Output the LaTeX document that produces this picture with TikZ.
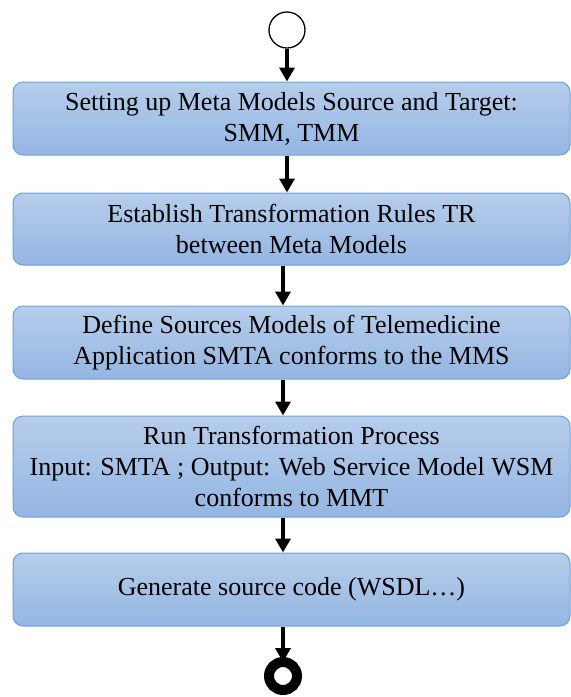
\documentclass[tikz,border=0pt]{standalone}
\usepackage{fontspec}
\setmainfont{Liberation Serif}
\usepackage{xcolor}
\usetikzlibrary{arrows.meta,shapes}

\definecolor{boxtop}{RGB}{182,205,235}
\definecolor{boxbot}{RGB}{148,182,226}
\definecolor{boxline}{RGB}{110,159,216}

\tikzset{
  stepbox/.style={rectangle,rounded corners=10pt,draw=boxline,line width=1pt,
    top color=boxtop,bottom color=boxbot,minimum width=557pt,inner sep=0pt,
    align=center,font=\fontsize{26}{31}\selectfont},
  flow/.style={-{Triangle[length=14pt,width=15pt]},line width=3.8pt}
}

\begin{document}
\begin{tikzpicture}[x=1pt,y=1pt]
		\useasboundingbox (0,0) rectangle (571,-697);
		\node[circle,draw,line width=1.3pt,fill=white,minimum size=36pt,inner sep=0pt] (start) at (287,-30) {};
		\node[stepbox,minimum height=73pt] (smm) at (291.5,-118.5) {Setting up Meta Models Source and Target:\\SMM, TMM};
		\node[stepbox,minimum height=72pt] (rules) at (291.5,-229) {Establish Transformation Rules TR\\between Meta Models};
		\node[stepbox,minimum height=73pt] (models) at (291.5,-342.5) {Define Sources Models of Telemedicine\\Application SMTA conforms to the MMS};
		\node[stepbox,minimum height=101pt] (run) at (291.5,-466.5) {Run Transformation Process\\Input: SMTA ; Output: Web Service Model WSM\\conforms to MMT};
		\node[stepbox,minimum height=73pt] (gen) at (291.5,-589.5) {Generate source code (WSDL\ldots)};
		\node[circle,draw,line width=10pt,fill=white,minimum size=28pt,inner sep=0pt,outer sep=0pt] (stop) at (283,-676) {};
		%
		\path[flow]
		(start) edge (start |- smm.north)
		(smm.south -| start) edge (rules.north -| start)
		(rules.south -| stop) edge (models.north -| stop)
		(models.south -| stop) edge (run.north -| stop)
		(run.south -| stop) edge (gen.north -| stop)
		(gen.south -| stop) edge (stop);
\end{tikzpicture}
\end{document}
